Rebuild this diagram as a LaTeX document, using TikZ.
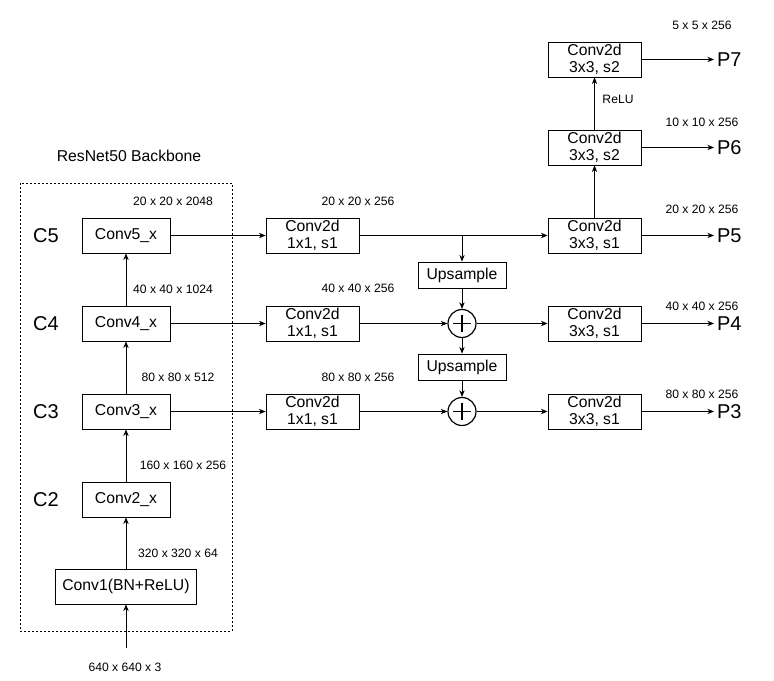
\documentclass[tikz,border=0pt]{standalone}
\usepackage{fontspec}
\setmainfont{Liberation Sans}
\usetikzlibrary{arrows.meta,positioning}

\begin{document}
\begin{tikzpicture}[
  x=0.75pt,y=-0.75pt,
  >={Stealth[length=5pt,width=4pt]},
  line width=0.6pt,
  block/.style={draw,align=center,minimum width=66pt,minimum height=26.25pt,inner sep=1pt,font=\fontsize{11.8}{12.5}\selectfont},
  dim/.style={font=\fontsize{9.1}{11}\selectfont},
  lvl/.style={font=\fontsize{15}{18}\selectfont},
  sum/.style={draw,circle,minimum size=21pt,inner sep=0pt,line width=0.9pt},
]
  \useasboundingbox (0,0) rectangle (774,681);
  \draw[dash pattern=on 1.5pt off 1.5pt] (20,183) rectangle (232,631);
  \node[font=\fontsize{11.8}{14}\selectfont] (title) at (129,156) {ResNet50 Backbone};

  % backbone
  \node[block,minimum width=105.75pt] (conv1) at (126,586.5) {Conv1(BN+ReLU)};
  \node[block] (c2) at (126,499.5) {Conv2\_x};
  \node[block] (c3) at (126,411.5) {Conv3\_x};
  \node[block] (c4) at (126,323.5) {Conv4\_x};
  \node[block] (c5) at (126,235.5) {Conv5\_x};
  \foreach \n in {2,...,5}
    \node[lvl] (lc\n) at (46,{235.5+88*(5-\n)}) {C\n};
  \coordinate (in) at (126,648);

  % lateral and top-down path
  \node[block,minimum width=69.75pt] (l5) at (312.5,235.5) {Conv2d\\1x1, s1};
  \node[block,minimum width=69.75pt] (l4) at (312.5,323.5) {Conv2d\\1x1, s1};
  \node[block,minimum width=69.75pt] (l3) at (312.5,411.5) {Conv2d\\1x1, s1};
  \coordinate (br) at (462,235.5);
  \node[block,minimum height=19.5pt] (up5) at (462,275) {Upsample};
  \node[block,minimum height=19.5pt] (up4) at (462,367) {Upsample};
  \node[sum] (s4) at (462,323.5) {};
  \node[sum] (s3) at (462,411.5) {};
  \foreach \s in {s4,s3}
    \draw[line width=1pt] ([xshift=-6.5pt]\s.center) -- ([xshift=6.5pt]\s.center)
      ([yshift=-6.5pt]\s.center) -- ([yshift=6.5pt]\s.center);

  % outputs
  \node[block,minimum width=69.75pt] (o3) at (594.5,411.5) {Conv2d\\3x3, s1};
  \node[block,minimum width=69.75pt] (o4) at (594.5,323.5) {Conv2d\\3x3, s1};
  \node[block,minimum width=69.75pt] (o5) at (594.5,235.5) {Conv2d\\3x3, s1};
  \node[block,minimum width=69.75pt] (o6) at (594.5,147.5) {Conv2d\\3x3, s2};
  \node[block,minimum width=69.75pt] (o7) at (594.5,59.5) {Conv2d\\3x3, s2};
  \foreach \n/\y in {3/411.5,4/323.5,5/235.5,6/147.5,7/59.5}
    \node[lvl,anchor=west,inner sep=2pt] (p\n) at (714,\y) {P\n};

  \foreach \a/\b in {in/conv1,conv1/c2,c2/c3,c3/c4,c4/c5,c5/l5,c4/l4,c3/l3,l5/o5,br/up5,up5/s4,l4/s4,s4/o4,s4/up4,up4/s3,l3/s3,s3/o3,o5/o6,o6/o7,o3/p3,o4/p4,o5/p5,o6/p6,o7/p7}
    \draw[->] (\a) -- (\b);
  \node[dim] (relu) at (618,99) {ReLU};

  % feature map sizes
  \node[dim] (d5) at (173,201) {20 x 20 x 2048};
  \node[dim] (d4) at (173,289) {40 x 40 x 1024};
  \node[dim] (d3) at (178,377) {80 x 80 x 512};
  \node[dim] (d2) at (183,465) {160 x 160 x 256};
  \node[dim] (d1) at (178,553) {320 x 320 x 64};
  \node[dim] (d0) at (125,667) {640 x 640 x 3};
  \node[dim] (m5) at (358,201) {20 x 20 x 256};
  \node[dim] (m4) at (358,288) {40 x 40 x 256};
  \node[dim] (m3) at (358,377) {80 x 80 x 256};
  \node[dim] (q7) at (702,25) {5 x 5 x 256};
  \node[dim] (q6) at (702,122) {10 x 10 x 256};
  \node[dim] (q5) at (702,209) {20 x 20 x 256};
  \node[dim] (q4) at (702,306) {40 x 40 x 256};
  \node[dim] (q3) at (702,394) {80 x 80 x 256};
\end{tikzpicture}
\end{document}
